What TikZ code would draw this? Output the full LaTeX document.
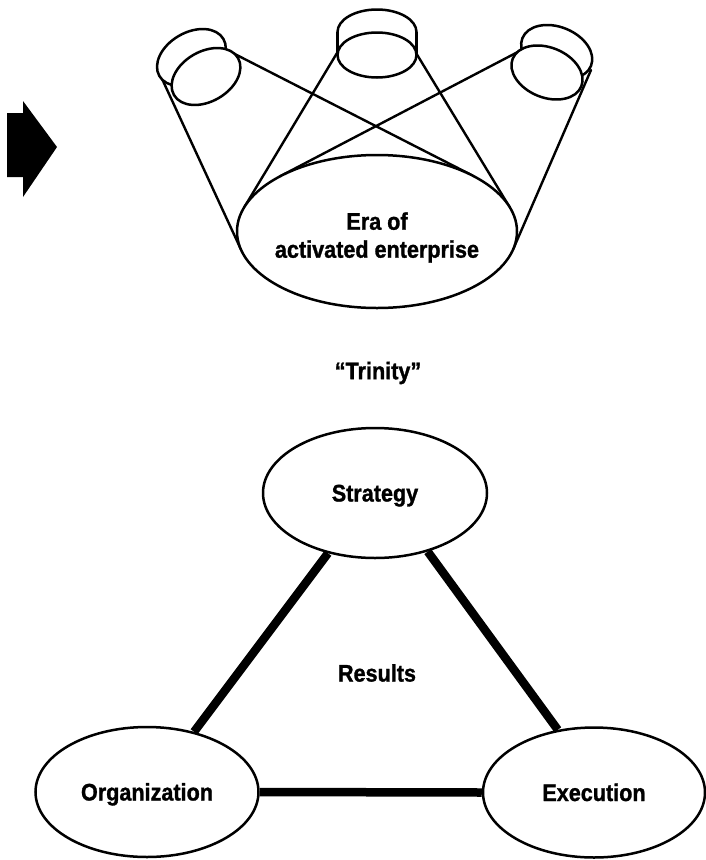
\documentclass[tikz,border=0pt]{standalone}
\usepackage{fontspec}
\newfontfamily\lblfont{Liberation Sans}[FakeStretch=0.9,FakeBold=1.2]
\usetikzlibrary{shapes.geometric,backgrounds}
\begin{document}
\begin{tikzpicture}[x=1pt,y=-1pt,
  outline/.style={line width=2.5pt},
  beam/.style={line width=2.4pt, line cap=round},
  lbl/.style={font={\lblfont\bfseries\fontsize{24}{28}\selectfont}, inner sep=0pt},
  bubble/.style={ellipse, draw, line width=2.5pt, fill=white, inner sep=0pt,
    minimum width=224pt, minimum height=130pt, lbl, text height=17pt, text depth=0pt},
  link/.style={line width=8.5pt}]
\useasboundingbox (0,0) rectangle (706,860);

% ---- left-hand block arrow ----
\fill (7,113) -- (23,113) -- (23,101) -- (57,147) -- (23,197) -- (23,177) -- (7,177) -- cycle;

% ---- beams from the three lamps down to the stage ----
\draw[beam] (157,68)      -- (241.3,250.2);
\draw[beam] (215,43.9)    -- (472.7,175.6);
\draw[beam] (342,44.7)    -- (244.1,207.5);
\draw[beam] (411.5,45.5)  -- (509.8,207.4);
\draw[beam] (530,45.6)    -- (280.2,176.2);
\draw[beam] (591,70)      -- (513.2,249.2);

% ---- the stage ----
\node[ellipse, draw, outline, fill=white, inner sep=0pt,
      minimum width=280pt, minimum height=153pt] (era) at (377,231.5) {};
\node[lbl, align=center] (eratext) at (377,237.5) {Era of\\activated enterprise};

% ---- left lamp ----
\draw[outline, fill=white, rotate around={30:(191.4,57.5)}]
  (191.4,57.5) ellipse [x radius=37pt, y radius=25pt];
\draw[outline, fill=white, rotate around={30:(206,76.5)}]
  (206,76.5) ellipse [x radius=37pt, y radius=25pt];

% ---- middle lamp ----
\draw[outline, fill=white] (377,32) ellipse [x radius=39.5pt, y radius=22.5pt];
\fill[white] (337.5,32) rectangle (416.5,55);
\draw[outline] (337.5,32) -- (337.5,55) (416.5,32) -- (416.5,55);
\draw[outline, fill=white] (377,55) ellipse [x radius=39.5pt, y radius=22.5pt];

% ---- right lamp ----
\draw[outline, fill=white, rotate around={-22:(556.7,52)}]
  (556.7,52) ellipse [x radius=37pt, y radius=25pt];
\draw[outline, fill=white, rotate around={-22:(547,72.5)}]
  (547,72.5) ellipse [x radius=37pt, y radius=25pt];

% ---- caption ----
\node[lbl] (trinity) at (378,373) {“Trinity”};

% ---- the trinity triangle ----
\node[bubble] (strat) at (375,493)   {Strategy};
\node[bubble, minimum width=223pt] (org)  at (147,792) {Organization};
\node[bubble, minimum width=222pt] (exec) at (594,792.5) {Execution};
\node[lbl] (results) at (377,673) {Results};

\begin{scope}[on background layer]
  \draw[link] (strat.-128.9) -- (org.52.5);
  \draw[link] (strat.-48.5)  -- (exec.120.8);
  \draw[link] (org.east)     -- (exec.west);
\end{scope}
\end{tikzpicture}
\end{document}
